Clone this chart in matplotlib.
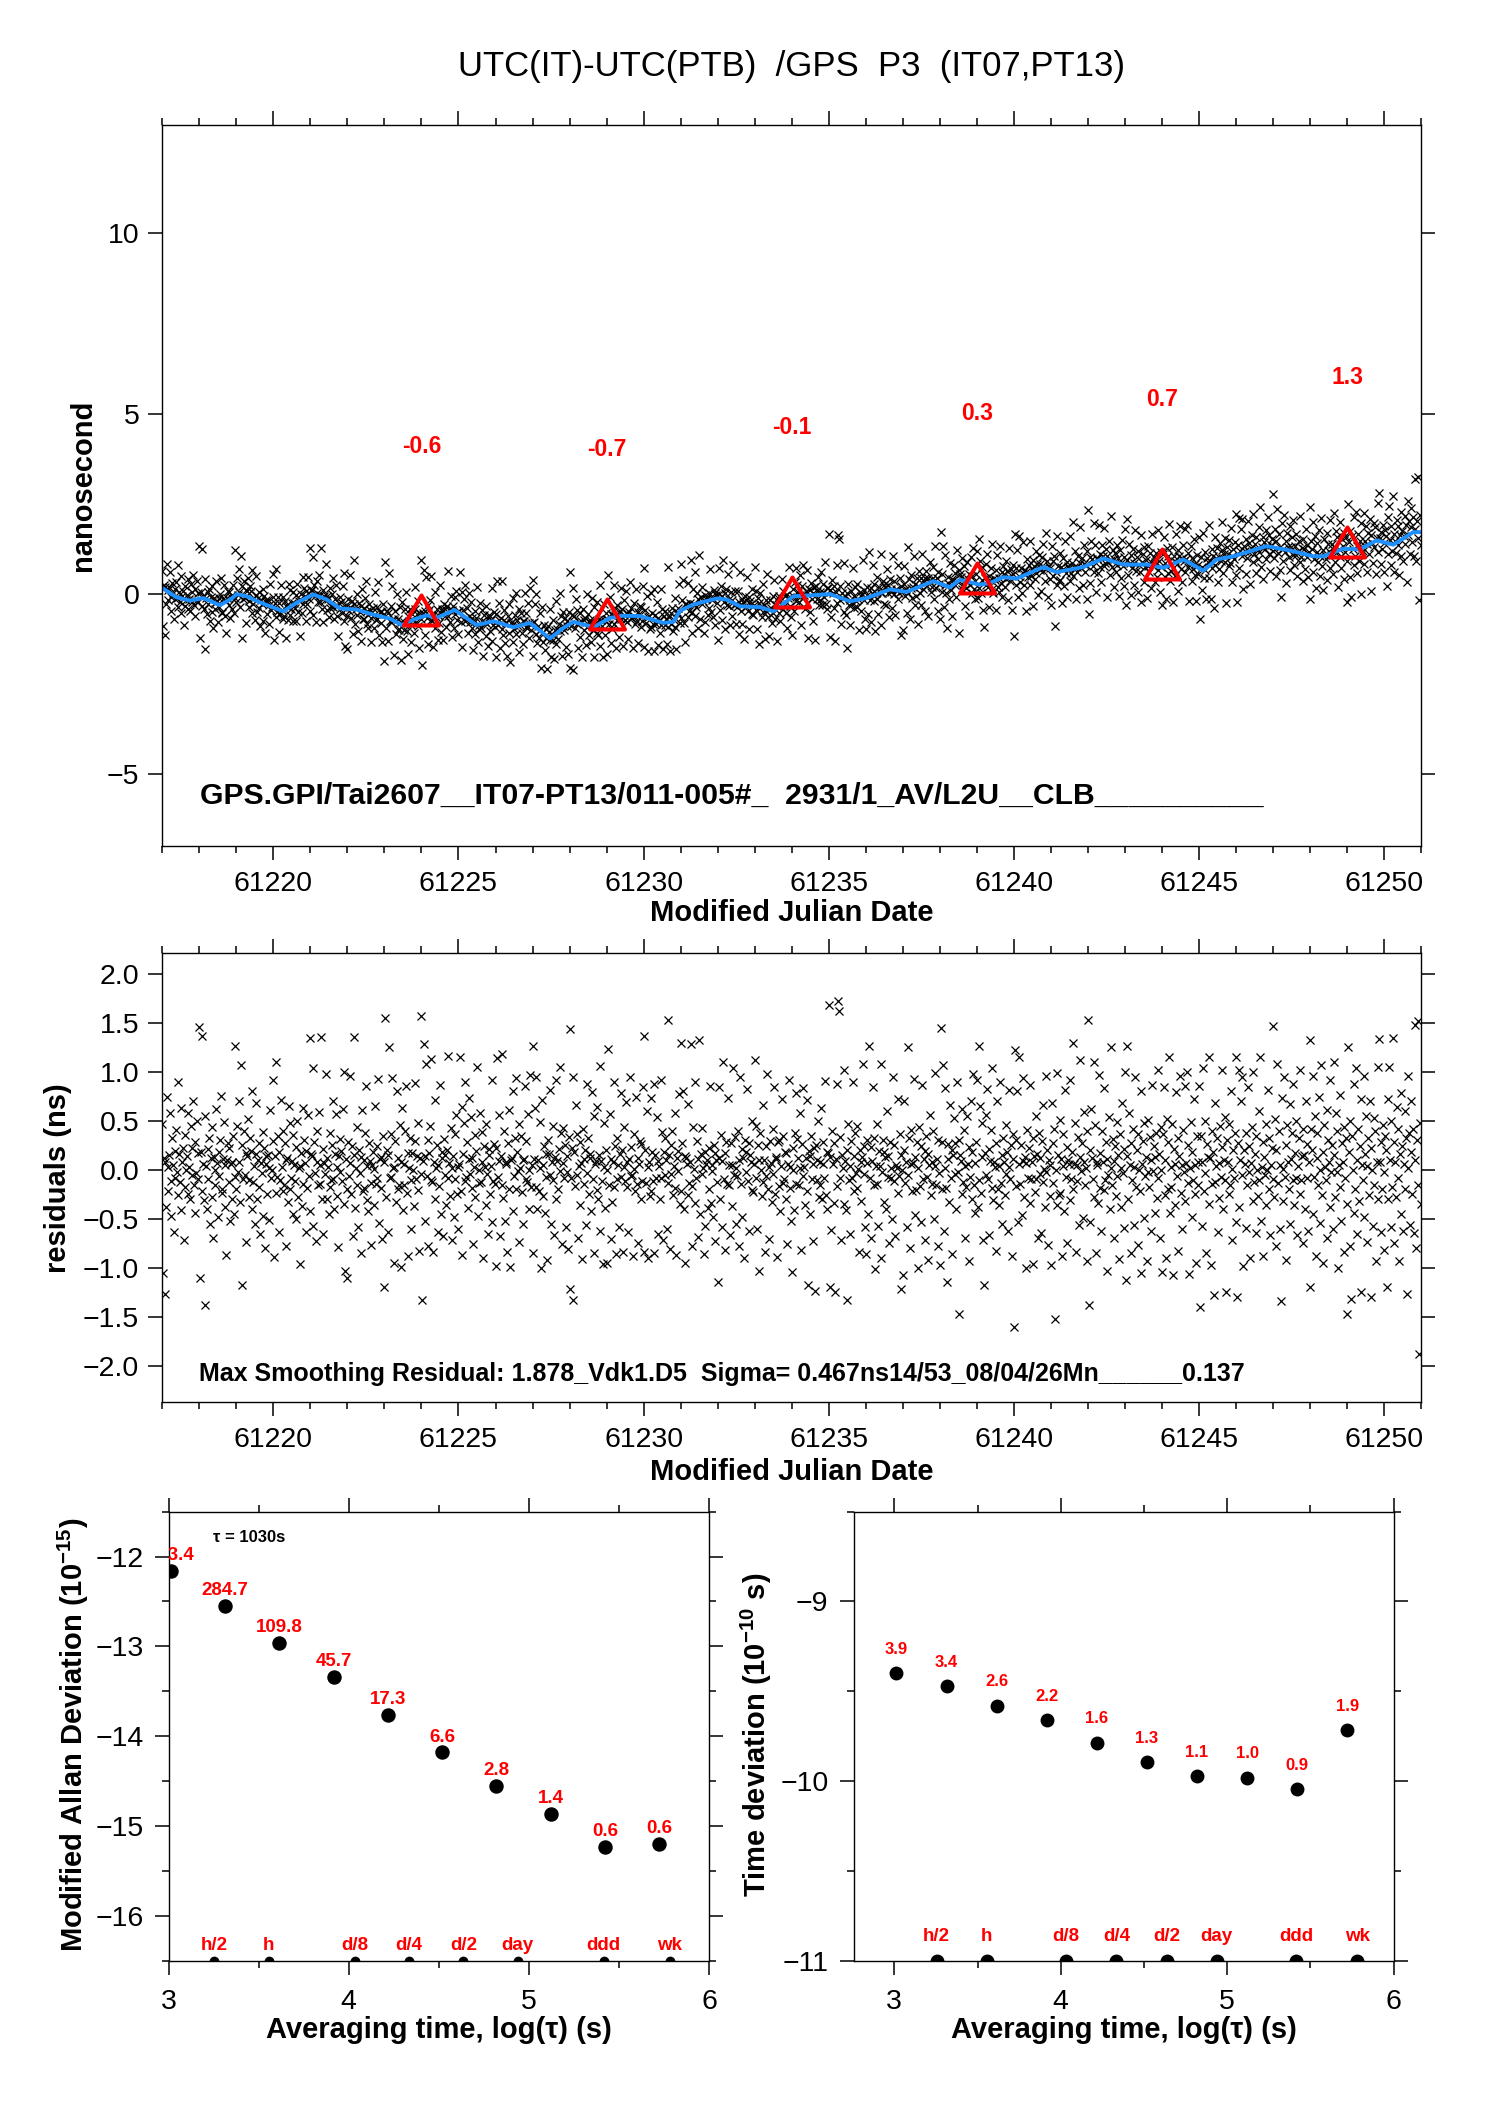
import numpy as np
import matplotlib
matplotlib.use('Agg')
import matplotlib.pyplot as plt
from matplotlib.ticker import MultipleLocator, FormatStrFormatter
from matplotlib import transforms
from matplotlib.path import Path

plt.rcParams['font.family'] = ['Liberation Sans', 'DejaVu Sans']
plt.rcParams['mathtext.fontset'] = 'custom'
plt.rcParams['mathtext.rm'] = 'Liberation Sans'
plt.rcParams['mathtext.bf'] = 'Liberation Sans:bold'
plt.rcParams['axes.unicode_minus'] = True

# ---------------- data ----------------
TITLE = "UTC(IT)-UTC(PTB)  /GPS  P3  (IT07,PT13)"
INFO_TOP = "GPS.GPI/Tai2607__IT07-PT13/011-005#_  2931/1_AV/L2U__CLB__________"
INFO_RES = "Max Smoothing Residual: 1.878_Vdk1.D5  Sigma= 0.467ns14/53_08/04/26Mn______0.137"

# smoothed curve (ns)
SMOOTH_MJD = [61217.0, 61217.39, 61217.75, 61218.11, 61218.56, 61218.88, 61219.01, 61219.28,
              61219.64, 61220.27, 61220.63, 61221.08, 61221.44, 61221.80, 61222.25, 61222.70,
              61223.15, 61223.47, 61223.78, 61224.14, 61224.41, 61224.90, 61225.49, 61225.94,
              61226.48, 61226.93, 61227.47, 61227.83, 61228.10, 61228.41, 61228.64, 61229.09,
              61229.45, 61229.90, 61230.53, 61230.80, 61230.98, 61231.34, 61231.97, 61232.24,
              61232.60, 61233.14, 61233.50, 61233.86, 61234.04, 61234.58, 61235.03, 61235.57,
              61236.02, 61236.65, 61237.10, 61237.82, 61238.27, 61238.54, 61239.08, 61239.35,
              61239.71, 61240.07, 61240.43, 61240.79, 61241.15, 61241.87, 61242.41, 61242.95,
              61243.58, 61244.03, 61244.57, 61245.11, 61245.47, 61245.92, 61246.82, 61247.45,
              61248.08, 61248.35, 61248.89, 61249.34, 61249.79, 61250.24, 61250.78, 61251.0]
SMOOTH_NS = [0.16, -0.10, -0.19, -0.12, -0.32, -0.13, -0.01, -0.07,
             -0.24, -0.49, -0.25, -0.02, -0.16, -0.41, -0.44, -0.58,
             -0.69, -0.87, -0.72, -0.60, -0.67, -0.45, -0.87, -0.76,
             -0.93, -0.81, -1.24, -0.95, -0.78, -0.86, -0.93, -0.67,
             -0.61, -0.62, -0.81, -0.78, -0.47, -0.30, -0.13, -0.16,
             -0.35, -0.37, -0.49, -0.21, -0.07, -0.04, -0.01, -0.21,
             -0.12, 0.12, 0.05, 0.35, 0.18, 0.39, 0.25, 0.30,
             0.46, 0.42, 0.58, 0.74, 0.60, 0.74, 0.98, 0.81,
             0.81, 0.72, 0.95, 0.64, 0.95, 1.04, 1.32, 1.20,
             1.04, 1.04, 1.25, 1.23, 1.48, 1.36, 1.71, 1.71]

# 5-day means (triangles)
TRI_MJD = [61224, 61229, 61234, 61239, 61244, 61249]
TRI_NS = [-0.6, -0.7, -0.1, 0.3, 0.7, 1.3]
TRI_LABELS = ['-0.6', '-0.7', '-0.1', '0.3', '0.7', '1.3']

# residuals (units of 0.01 ns), one row per day
RESID_DAYS = list(range(61217, 61251))
RESID_ROWS = [
 [47, -105, 12, -127, 8, -38, 74, 3, -22, 15, 58, -11, -47, 33, 5, -64, 19, -8, 41, -2, 90, -26, 16, -12, 63, -41, 8, 22, -72, -18, 36, 0, 14, 58, -25, 3, -30, 45, 22, -5, 70, -15, -44, 28, -3, 50, -9, 17],
 [146, -110, 18, -22, 137, 6, -31, 55, -138, 4, -40, 21, -9, 33, -55, 12, -28, 44, -70, 13, 0, -15, 62, 7, -48, 18, -6, 30, 75, -20, -24, 11, 49, -38, 5, -87, 10, 27, -12, 22, -52, 6, -30, 8, 35, -45, -7, 126],
 [-20, 45, -2, 70, 8, -33, 107, -118, 25, -9, 40, -5, 17, -74, 14, 52, -28, -10, 33, 19, -40, 81, -12, 4, -55, 16, 68, -30, 10, -18, 27, -66, 7, -3, 39, -47, 22, -80, 6, 14, -25, 15, -51, 2, 61, -8, 0, 29],
 [92, -89, 14, -24, 110, -7, 35, -63, 18, -10, 71, 3, -22, 40, -15, 27, -78, 10, 12, -33, 65, -20, 48, -8, 9, 36, -45, 5, -11, -50, 23, 50, -28, 2, -96, 4, 17, -37, 63, -14, 30, 7, -64, 19, -19, 56, -6, 135],
 [-42, 16, 14, -57, 104, 28, -3, -73, 40, 8, -16, 59, -14, 5, 136, -30, 21, -66, 7, -4, 98, -30, 12, 3, -45, -18, 38, -10, 25, 70, -9, -40, 16, 57, -27, 3, -79, 14, 31, -2, 19, -11, 62, -35, 100, -103, 11, -20],
 [-110, 28, -6, 96, 7, -25, 24, -68, 136, 15, -39, 2, -16, 44, -58, 20, -3, -85, 13, 61, -22, 10, -19, 38, 86, -31, 4, -42, 27, 9, -13, -77, 5, 18, -36, 1, 65, -14, 24, -8, 93, -54, 11, -19, 13, -71, 35, 8],
 [-120, 155, -28, 20, 15, -64, 125, -8, 37, -7, 94, 2, -95, 3, 29, -33, 80, -20, 12, -15, 46, -99, 8, 63, -41, 6, -16, 40, 86, -24, 17, -88, 2, 33, -10, -60, 17, 0, -37, 29, 89, -9, 14, -21, 48, -83, 12, -4],
 [157, -133, 9, 128, 14, -52, 108, -6, 30, -78, 17, 45, -10, 113, -12, -84, 8, 71, -30, 2, 25, -63, 5, -17, 87, -45, 12, 18, -68, 31, -5, 15, -36, 20, -8, 116, 7, -27, 43, -72, 2, 14, -48, 37, -9, 56, -25, 3],
 [-60, 6, 115, -22, 64, -87, 16, 48, -11, 90, -7, 28, -39, 73, 11, -4, 54, -19, 12, -76, 3, 36, -28, 19, 105, -47, 0, -13, 58, -12, 8, 39, -90, 24, 3, -36, 47, -4, -66, 15, 21, -25, 4, -53, 92, -11, 26, -14],
 [-98, 22, 114, -7, 56, 9, -68, 14, -15, 118, -29, 40, -52, 6, 8, -84, 27, 61, -20, -99, 10, 12, -42, 80, -6, 33, -20, 94, 18, -1, 47, -74, 2, 35, -23, 10, -55, 11, 86, -9, 29, -12, 57, -40, 0, 97, -18, 5],
 [126, -85, 11, 63, -18, 95, -40, 10, -22, 49, 2, -100, 71, -27, 5, 24, -44, 16, -7, -92, 30, 16, -5, 82, -55, 8, -10, 45, -67, 13, 92, -30, 9, -20, 21, 105, -1, 38, -76, 7, 43, -8, 25, -58, 14, -2, -81, 34],
 [-122, 144, -8, 22, -133, 95, 18, -17, 66, -5, 37, -70, 4, 28, -36, 7, -91, 42, 11, -14, 20, -56, 88, -3, 33, -25, 16, 12, -42, 79, -9, 55, -85, 6, 9, -21, 64, -30, 15, 106, -62, 9, -11, -96, 48, 3, -39, 20],
 [-95, 0, 123, -16, 57, -71, 11, -33, 8, 90, -18, 24, -86, 32, -9, 5, -58, 16, 78, -7, 20, -84, 3, 44, -11, 69, -18, 8, -64, 11, 95, -6, 23, -5, -88, 37, 1, -22, 74, -14, 12, -75, 6, 29, -30, 26, -11, 85],
 [-84, 137, 20, -13, 60, -90, 3, 8, -27, 73, -22, 18, -11, -85, 88, 15, -8, 54, -66, 9, 4, -30, 92, -8, 39, -72, 18, 33, -5, 10, -60, 153, -13, 15, -81, 25, -4, 40, -26, 4, -19, 58, -87, 12, 19, -1, 77, -35],
 [130, -22, 27, 80, -40, 14, -95, 12, 6, -26, 67, -13, 8, 128, -17, -78, 44, 1, -34, 90, -8, 29, -69, 11, 133, -45, 16, 43, -4, 2, -86, 18, -57, 6, 10, -39, 22, -20, 86, -34, 5, -1, -48, 25, 17, -73, 10, -12],
 [-115, 12, 85, -30, 36, -58, 9, 110, -9, -82, 17, 28, -14, 73, -16, 5, -67, 27, 5, -37, 104, -5, 34, -55, 2, -6, 40, -78, 10, 95, -14, 21, -48, 12, -90, 30, -2, 18, 83, -11, 27, -62, 15, 8, -21, 50, -23, 6],
 [112, -8, 45, -60, 25, 10, -103, 38, 0, -27, 66, -12, 10, -84, 24, -6, 98, -20, 3, -71, 29, 7, -33, 42, -4, 85, -25, 13, 11, -89, 28, -17, 30, -42, 4, 72, -13, 35, -9, 18, -30, 17, -76, 6, 92, -19, 3, -52],
 [-104, 22, 0, -41, 38, 78, -14, 31, 12, -16, 58, 2, -82, 26, -6, 84, 3, -36, 12, 71, -22, -118, 19, 14, -45, 35, -9, 6, -73, 22, -124, 25, -10, 10, 50, -28, 8, -15, 63, -30, 28, 6, -8, 91, -26, 18, -40, 17],
 [168, -120, 13, -61, 40, 6, -34, 27, -125, 11, 88, -17, 172, 162, -8, 34, -72, 15, 2, -35, 102, 9, -41, 20, -133, 47, -10, 4, -66, 29, -8, 90, 14, -22, 38, -3, 45, -19, 1, -84, 20, 8, -32, 13, 108, -4, 24, -58],
 [-86, 30, 7, -45, 126, -8, 23, -70, 9, 85, -16, 32, -101, 4, -14, 47, -57, 19, 4, -90, 108, -2, 30, -33, 18, 13, -40, 60, -7, 14, -75, 28, -8, 2, -50, 95, -11, 25, -68, 5, 2, -24, 72, -6, 37, -122, 15, 0],
 [-107, 20, 70, -13, 8, -58, 125, -5, 32, -80, 6, 41, -22, 7, 93, -46, 13, -21, 28, -100, 2, 44, -17, 24, -53, 87, -9, 11, -72, 19, 35, -7, 16, -92, 5, 56, -26, 8, -14, 40, -50, 4, 99, -15, 11, -78, 30, -3],
 [-97, 145, 28, -20, 107, -62, 2, 84, -19, -115, 26, 11, -33, 66, -8, 20, -86, 15, 53, -4, 27, -40, 90, -2, 30, -147, 15, 9, -25, 62, -12, 41, -70, 4, -18, 55, 6, -93, 23, -7, 70, -30, 18, 98, -16, 7, -44, 28],
 [92, -38, 126, -10, 65, -24, 13, 48, -72, -118, 17, 56, -5, 83, -9, 21, -67, 9, 41, -19, 104, -31, 8, 3, -83, 27, 70, -20, 4, -36, 90, -13, 15, -55, 32, 8, -26, 46, -4, 18, -62, 3, 82, -9, 25, -88, 11, 37],
 [-160, 122, 30, -17, 80, -53, 6, 115, -14, 25, -46, 9, 94, -28, 13, -100, 7, 41, -8, 22, -34, 87, -9, 8, -96, 33, 14, -23, 55, -9, 16, -70, 38, -4, 12, -65, 29, 66, -12, 1, -38, 96, -2, 20, -77, 10, 5, -27],
 [-97, 68, 27, -13, 42, -152, 0, -36, 99, 15, -26, 51, -24, 11, -88, 37, 4, -42, 82, -7, 23, -75, 10, 6, -31, 92, -9, 18, 130, -20, 6, 48, -84, 5, -11, 34, -56, 13, 112, -1, 27, -49, 8, 59, -16, 2, -93, 40],
 [153, -138, 20, -53, 62, 12, -9, 110, -28, 46, -85, 8, 5, -34, 97, -19, 17, -62, 40, 8, -21, 84, -10, 28, -103, 11, -5, 54, -40, 2, 125, -15, 31, -70, 9, 24, -27, 49, -6, 15, -91, 37, 2, -38, 68, -3, 21, -59],
 [100, -112, 14, 126, -30, 58, 5, -85, 27, -10, 42, -56, 3, 95, -18, 20, -77, 37, 0, -22, 81, -105, 6, 29, -49, 48, -6, 13, -93, 51, -2, -18, 34, -62, 10, 87, -1, 24, -44, 13, 38, -29, 102, -8, 16, -70, 0, 44],
 [-104, 37, 85, -26, 10, -90, 52, -20, 28, 115, -44, 3, -18, 47, -107, 21, 6, -36, 79, -6, 32, -83, 14, 96, -24, 5, -60, 41, -2, 86, -32, 7, 100, -13, 25, -106, 2, 49, -48, 18, -10, 72, -25, 5, -95, 35, 8, -16],
 [86, -140, 35, -57, 8, 104, -22, 50, -3, -85, 26, 13, 115, -35, 12, -97, 40, -14, 18, -128, 68, -12, 4, 32, -64, 7, -29, 45, -7, 23, 102, -40, 10, -10, 54, -125, 30, 8, -25, 47, -16, 80, 1, -72, 20, -8, 38, -53],
 [115, -130, 27, 102, -38, 10, 70, -5, 95, -98, 20, 6, -59, 38, -16, 85, -2, 24, -90, 7, 44, -32, 100, -12, 16, -65, 35, 0, -27, 60, -10, 115, -52, 3, 28, -88, 13, -5, 47, -36, 0, 82, -20, 32, -67, 5, 22, -9],
 [147, -28, 52, -78, 20, 108, -13, 40, -60, 5, -134, 73, 1, -32, 95, -7, 25, -92, 46, 8, -20, 67, -55, 11, 38, -10, 88, -36, 17, -8, 50, -67, 4, 32, -25, 102, -10, 14, -75, 42, 15, -40, 70, -8, 26, -62, 8, 133],
 [-120, 42, 20, -45, 96, -7, 55, -88, 12, 38, -16, 74, -54, 0, 107, -26, 18, -95, 46, 3, -10, 61, -70, 30, 8, -38, 92, -2, 25, -60, 110, 15, -28, 58, -2, 40, -100, 5, -18, 76, -52, 27, 8, -84, 44, -8, 33, -35],
 [-147, 125, 18, -78, 50, -132, 35, 0, -44, 88, -20, 104, -66, 10, 42, -32, 24, -125, 72, 5, -10, 96, -48, 16, 55, -74, 4, 32, -26, 70, -130, 22, 0, -57, 53, -15, 40, -93, 8, 105, -30, 134, 8, -63, 28, -20, 46, -2],
 [-82, 35, 20, -120, 72, -30, 105, 10, -58, 50, -18, 135, -75, 28, 8, -28, 64, -8, 42, -93, 16, 78, -45, 24, -62, 6, 60, -20, 32, -127, 96, 2, 38, -56, 18, 70, -25, 42, -65, 10, 148, -80, 30, -16, 152, -188, 48, -35],
]

# stability analysis
LOGTAU = [3.013, 3.314, 3.615, 3.916, 4.217, 4.518, 4.819, 5.120, 5.421, 5.722]
MDEV_LOG = [-12.16, -12.545, -12.96, -13.34, -13.76, -14.18, -14.55, -14.86, -15.23, -15.20]
MDEV_LABELS = ['693.4', '284.7', '109.8', '45.7', '17.3', '6.6', '2.8', '1.4', '0.6', '0.6']
TDEV_LOG = [-9.40, -9.47, -9.58, -9.66, -9.785, -9.895, -9.97, -9.98, -10.045, -9.715]
TDEV_LABELS = ['3.9', '3.4', '2.6', '2.2', '1.6', '1.3', '1.1', '1.0', '0.9', '1.9']
MARK_NAMES = ['h/2', 'h', 'd/8', 'd/4', 'd/2', 'day', 'ddd', 'wk']
MARK_LOGTAU = [3.255, 3.556, 4.033, 4.334, 4.636, 4.937, 5.414, 5.782]

# ---------------- figure ----------------
W, H = 1488, 2105
fig = plt.figure(figsize=(W / 100, H / 100), dpi=100)
RED = '#ff0000'
BLUE = '#1e90ff'
TICK_FS = 20.5
LAB_FS = 21


def style(ax, xpad=8, ypad=6.5):
    ax.tick_params(which='both', direction='out', top=True, right=True,
                   labeltop=False, labelright=False, width=1.1, colors='black')
    ax.tick_params(which='major', length=10, labelsize=TICK_FS)
    ax.tick_params(which='minor', length=5)
    ax.tick_params(axis='x', which='major', pad=xpad)
    ax.tick_params(axis='y', which='major', pad=ypad)
    for s in ax.spines.values():
        s.set_linewidth(1.0)


# x positions and values of the measurement points
mjd_pts = []
res_pts = []
for day, row in zip(RESID_DAYS, RESID_ROWS):
    n = len(row)
    for k, v in enumerate(row):
        mjd_pts.append(day + k / n)
        res_pts.append(v * 0.01)
mjd_pts = np.array(mjd_pts)
res_pts = np.array(res_pts)
raw_pts = np.interp(mjd_pts, SMOOTH_MJD, SMOOTH_NS) + res_pts

# ---- top panel ----
ax1 = fig.add_axes([0.1090, 0.5981, 0.8463, 0.34238])
ax1.plot(mjd_pts, raw_pts, linestyle='none', marker='x', color='black', ms=5.3, mew=0.9)
ax1.plot(SMOOTH_MJD, SMOOTH_NS, color=BLUE, lw=2.8, solid_capstyle='round', solid_joinstyle='round')
tri = Path([(0, 20), (-17.5, -10), (17.5, -10), (0, 20)], closed=True)
ax1.plot(TRI_MJD, TRI_NS, linestyle='none', marker=tri, ms=28.8, mfc='none', mec=RED, mew=2.9)
for x, v, s in zip(TRI_MJD, TRI_NS, TRI_LABELS):
    ax1.text(x, v + 4.7, s, color=RED, fontsize=16.5, fontweight='bold', ha='center', va='center')
ax1.text(61218.02, -5.62, INFO_TOP, fontsize=21.7, fontweight='bold', ha='left', va='center')
ax1.set_xlim(61217, 61251)
ax1.set_ylim(-7, 13)
ax1.xaxis.set_major_locator(MultipleLocator(5))
ax1.xaxis.set_minor_locator(MultipleLocator(1))
ax1.xaxis.set_major_formatter(FormatStrFormatter('%d'))
ax1.yaxis.set_major_locator(MultipleLocator(5))
style(ax1)
fig.text(0.5321, 1 - 66.7 / H, TITLE, fontsize=25, ha='center', va='center')
fig.text(0.5321, 1 - 912.6 / H, 'Modified Julian Date', fontsize=LAB_FS, fontweight='bold',
         ha='center', va='center')
fig.text(83 / W, 1 - 485 / H, 'nanosecond', fontsize=LAB_FS, fontweight='bold',
         rotation=90, ha='center', va='center')

# ---- residual panel ----
ax2 = fig.add_axes([0.1090, 0.33373, 0.8463, 0.21339])
ax2.plot(mjd_pts, res_pts, linestyle='none', marker='x', color='black', ms=5.3, mew=0.9)
ax2.text(61218.0, -2.08, INFO_RES, fontsize=18, fontweight='bold', ha='left', va='center')
ax2.set_xlim(61217, 61251)
ax2.set_ylim(-2.376, 2.211)
ax2.xaxis.set_major_locator(MultipleLocator(5))
ax2.xaxis.set_minor_locator(MultipleLocator(1))
ax2.xaxis.set_major_formatter(FormatStrFormatter('%d'))
ax2.yaxis.set_major_locator(MultipleLocator(0.5))
ax2.yaxis.set_major_formatter(FormatStrFormatter('%.1f'))
style(ax2)
ax2.set_yticklabels([t.get_text().replace('-', '\u2212') for t in ax2.get_yticklabels()])
fig.text(0.5321, 1 - 1472 / H, 'Modified Julian Date', fontsize=LAB_FS, fontweight='bold',
         ha='center', va='center')
fig.text(57.7 / W, 1 - 1178 / H, 'residuals (ns)', fontsize=LAB_FS, fontweight='bold',
         rotation=90, ha='center', va='center')

# ---- bottom-left: modified Allan deviation ----
ax3 = fig.add_axes([0.11324, 0.06841, 0.36344, 0.21349])
ax3.plot(LOGTAU, MDEV_LOG, linestyle='none', marker='o', color='black', ms=9.4)
lab3 = transforms.offset_copy(ax3.transData, fig=fig, y=11.1, units='points')
for x, v, s in zip(LOGTAU, MDEV_LOG, MDEV_LABELS):
    ax3.text(x, v, s, transform=lab3, color=RED, fontsize=13.5, fontweight='bold',
             ha='center', va='center', clip_on=True)
ax3.set_xlim(3, 6)
ax3.set_ylim(-16.5, -11.5)
ax3.plot(MARK_LOGTAU, [-16.5] * len(MARK_LOGTAU), linestyle='none', marker='o',
         color='black', ms=6, clip_on=True)
for x, s in zip(MARK_LOGTAU, MARK_NAMES):
    ax3.text(x, -16.5, s, transform=lab3, color=RED, fontsize=13.5, fontweight='bold',
             ha='center', va='center')
ax3.text(3.248, -11.79, '\u03c4 = 1030s', fontsize=12, fontweight='bold', ha='left', va='center')
ax3.xaxis.set_major_locator(MultipleLocator(1))
ax3.xaxis.set_minor_locator(MultipleLocator(0.5))
ax3.yaxis.set_major_locator(MultipleLocator(1))
ax3.yaxis.set_minor_locator(MultipleLocator(0.5))
style(ax3, xpad=10, ypad=8)
fig.text((168.5 + 709.3) / 2 / W, 1 - 2030.5 / H, 'Averaging time, log(\u03c4) (s)',
         fontsize=LAB_FS, fontweight='bold', ha='center', va='center')
fig.text(73 / W, 1 - 1735 / H, r'Modified Allan Deviation (10$^{\mathbf{-15}}$)',
         fontsize=LAB_FS, fontweight='bold', rotation=90, ha='center', va='center')

# ---- bottom-right: time deviation ----
ax4 = fig.add_axes([0.57359, 0.06841, 0.36297, 0.21349])
ax4.plot(LOGTAU, TDEV_LOG, linestyle='none', marker='o', color='black', ms=9)
lab4 = transforms.offset_copy(ax4.transData, fig=fig, y=17.1, units='points')
lab4b = transforms.offset_copy(ax4.transData, fig=fig, y=17.5, units='points')
for x, v, s in zip(LOGTAU, TDEV_LOG, TDEV_LABELS):
    ax4.text(x, v, s, transform=lab4, color=RED, fontsize=12, fontweight='bold',
             ha='center', va='center', clip_on=True)
ax4.set_xlim(2.755, 6.0)
ax4.set_ylim(-11, -8.5)
ax4.plot(MARK_LOGTAU, [-11] * len(MARK_LOGTAU), linestyle='none', marker='o',
         color='black', ms=9, clip_on=True)
for x, s in zip(MARK_LOGTAU, MARK_NAMES):
    ax4.text(x, -11, s, transform=lab4b, color=RED, fontsize=13.5, fontweight='bold',
             ha='center', va='center')
ax4.xaxis.set_major_locator(MultipleLocator(1))
ax4.xaxis.set_minor_locator(MultipleLocator(0.5))
ax4.yaxis.set_major_locator(MultipleLocator(1))
ax4.yaxis.set_minor_locator(MultipleLocator(0.5))
style(ax4, xpad=10, ypad=8)
fig.text((853.5 + 1393.6) / 2 / W, 1 - 2030.5 / H, 'Averaging time, log(\u03c4) (s)',
         fontsize=LAB_FS, fontweight='bold', ha='center', va='center')
fig.text(756.7 / W, 1 - 1735 / H, r'Time deviation (10$^{\mathbf{-10}}$ s)',
         fontsize=LAB_FS, fontweight='bold', rotation=90, ha='center', va='center')

fig.savefig('out.png', dpi=100)
